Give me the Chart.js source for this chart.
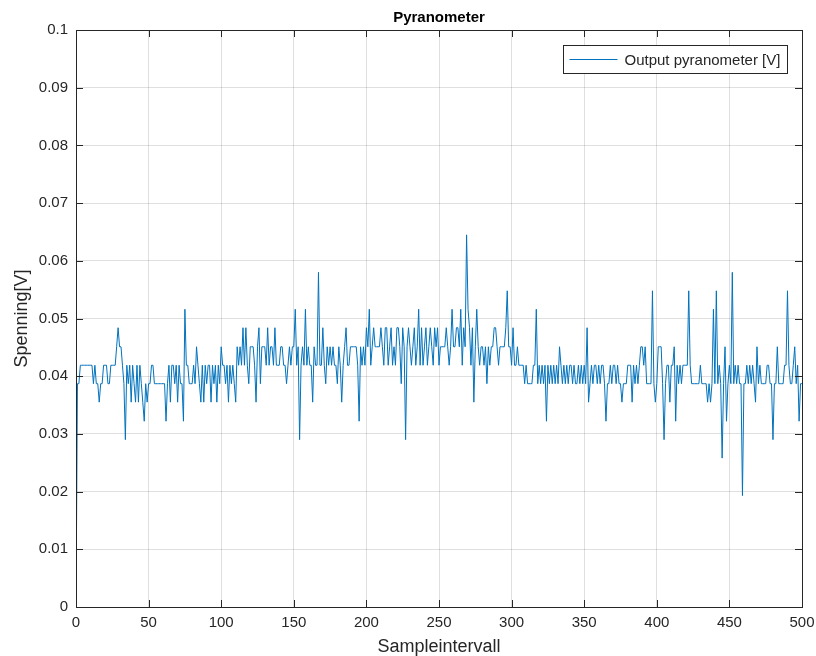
<!DOCTYPE html>
<html>
<head>
<meta charset="utf-8">
<script src="https://cdn.jsdelivr.net/npm/chart.js@4/dist/chart.umd.min.js"></script>
<style>
  body { margin: 0; background: #fff; }
  #wrap { width: 816px; height: 656px; }
</style>
</head>
<body>
<div id="wrap"><canvas id="myChart" width="816" height="656"></canvas></div>
<script>
// sample index on the x axis
const sampleIdx = Array.from({ length: 501 }, (_, i) => i);

// output voltage, one value per sample
const outputV = [
  0, 0.0387, 0.0387, 0.0419, 0.0419, 0.0419, 0.0419, 0.0419, 0.0419, 0.0419, // 0
  0.0419, 0.0419, 0.0387, 0.0419, 0.0387, 0.0387, 0.0355, 0.0387, 0.0387, 0.0419,
  0.0419, 0.0419, 0.0387, 0.0387, 0.0419, 0.0419, 0.0419, 0.0419, 0.0451, 0.0484,
  0.0451, 0.0451, 0.0419, 0.0387, 0.0290, 0.0419, 0.0387, 0.0419, 0.0355, 0.0419,
  0.0387, 0.0355, 0.0419, 0.0355, 0.0419, 0.0387, 0.0355, 0.0322, 0.0387, 0.0355,
  0.0387, 0.0387, 0.0419, 0.0419, 0.0387, 0.0387, 0.0387, 0.0387, 0.0387, 0.0387, // 50
  0.0387, 0.0387, 0.0322, 0.0387, 0.0419, 0.0355, 0.0419, 0.0419, 0.0387, 0.0419,
  0.0355, 0.0419, 0.0387, 0.0387, 0.0322, 0.0516, 0.0419, 0.0419, 0.0387, 0.0387,
  0.0387, 0.0419, 0.0387, 0.0451, 0.0419, 0.0387, 0.0355, 0.0419, 0.0355, 0.0419,
  0.0387, 0.0419, 0.0419, 0.0355, 0.0419, 0.0387, 0.0419, 0.0355, 0.0419, 0.0387,
  0.0451, 0.0419, 0.0419, 0.0387, 0.0419, 0.0355, 0.0419, 0.0387, 0.0419, 0.0387, // 100
  0.0355, 0.0451, 0.0419, 0.0451, 0.0419, 0.0484, 0.0419, 0.0484, 0.0419, 0.0387,
  0.0451, 0.0451, 0.0451, 0.0419, 0.0355, 0.0451, 0.0484, 0.0387, 0.0451, 0.0451,
  0.0451, 0.0419, 0.0484, 0.0419, 0.0451, 0.0451, 0.0419, 0.0484, 0.0419, 0.0419,
  0.0419, 0.0451, 0.0451, 0.0419, 0.0419, 0.0387, 0.0419, 0.0451, 0.0419, 0.0451,
  0.0451, 0.0516, 0.0419, 0.0451, 0.0290, 0.0419, 0.0451, 0.0419, 0.0516, 0.0419, // 150
  0.0451, 0.0419, 0.0419, 0.0355, 0.0451, 0.0419, 0.0419, 0.0580, 0.0419, 0.0419,
  0.0484, 0.0419, 0.0387, 0.0451, 0.0419, 0.0451, 0.0419, 0.0451, 0.0419, 0.0419,
  0.0387, 0.0451, 0.0419, 0.0355, 0.0419, 0.0451, 0.0484, 0.0419, 0.0419, 0.0451,
  0.0451, 0.0451, 0.0451, 0.0451, 0.0419, 0.0322, 0.0451, 0.0419, 0.0451, 0.0419,
  0.0484, 0.0451, 0.0516, 0.0419, 0.0451, 0.0484, 0.0451, 0.0451, 0.0451, 0.0451, // 200
  0.0484, 0.0451, 0.0419, 0.0484, 0.0484, 0.0419, 0.0451, 0.0484, 0.0419, 0.0451,
  0.0419, 0.0484, 0.0484, 0.0451, 0.0387, 0.0484, 0.0451, 0.0290, 0.0451, 0.0484,
  0.0451, 0.0419, 0.0451, 0.0484, 0.0419, 0.0451, 0.0516, 0.0419, 0.0484, 0.0419,
  0.0451, 0.0484, 0.0419, 0.0451, 0.0484, 0.0451, 0.0419, 0.0484, 0.0451, 0.0484,
  0.0419, 0.0451, 0.0451, 0.0451, 0.0451, 0.0484, 0.0451, 0.0419, 0.0451, 0.0516, // 250
  0.0451, 0.0451, 0.0484, 0.0484, 0.0451, 0.0516, 0.0419, 0.0484, 0.0451, 0.0645,
  0.0516, 0.0484, 0.0419, 0.0484, 0.0355, 0.0451, 0.0516, 0.0451, 0.0419, 0.0451,
  0.0451, 0.0419, 0.0451, 0.0387, 0.0451, 0.0419, 0.0451, 0.0451, 0.0484, 0.0484,
  0.0451, 0.0419, 0.0451, 0.0451, 0.0451, 0.0451, 0.0484, 0.0548, 0.0451, 0.0451,
  0.0419, 0.0484, 0.0419, 0.0419, 0.0451, 0.0419, 0.0419, 0.0419, 0.0419, 0.0387, // 300
  0.0419, 0.0387, 0.0387, 0.0387, 0.0387, 0.0419, 0.0419, 0.0516, 0.0387, 0.0419,
  0.0387, 0.0419, 0.0387, 0.0419, 0.0322, 0.0419, 0.0387, 0.0419, 0.0387, 0.0419,
  0.0387, 0.0419, 0.0387, 0.0451, 0.0419, 0.0387, 0.0419, 0.0387, 0.0419, 0.0387,
  0.0419, 0.0419, 0.0387, 0.0419, 0.0387, 0.0387, 0.0419, 0.0387, 0.0419, 0.0387,
  0.0419, 0.0387, 0.0484, 0.0355, 0.0387, 0.0419, 0.0387, 0.0419, 0.0419, 0.0387, // 350
  0.0419, 0.0387, 0.0419, 0.0419, 0.0387, 0.0322, 0.0387, 0.0387, 0.0419, 0.0387,
  0.0419, 0.0419, 0.0387, 0.0419, 0.0387, 0.0387, 0.0355, 0.0387, 0.0387, 0.0387,
  0.0419, 0.0419, 0.0419, 0.0355, 0.0419, 0.0387, 0.0419, 0.0387, 0.0419, 0.0451,
  0.0451, 0.0419, 0.0451, 0.0387, 0.0387, 0.0387, 0.0387, 0.0548, 0.0387, 0.0355,
  0.0387, 0.0451, 0.0451, 0.0451, 0.0387, 0.0290, 0.0387, 0.0419, 0.0419, 0.0355, // 400
  0.0419, 0.0419, 0.0451, 0.0322, 0.0419, 0.0387, 0.0419, 0.0387, 0.0419, 0.0419,
  0.0419, 0.0419, 0.0548, 0.0419, 0.0387, 0.0387, 0.0387, 0.0387, 0.0387, 0.0387,
  0.0419, 0.0387, 0.0387, 0.0387, 0.0387, 0.0355, 0.0387, 0.0355, 0.0387, 0.0516,
  0.0387, 0.0548, 0.0387, 0.0419, 0.0387, 0.0258, 0.0387, 0.0451, 0.0322, 0.0387,
  0.0419, 0.0387, 0.0580, 0.0387, 0.0419, 0.0387, 0.0419, 0.0387, 0.0387, 0.0193, // 450
  0.0387, 0.0387, 0.0419, 0.0387, 0.0419, 0.0387, 0.0419, 0.0387, 0.0355, 0.0451,
  0.0387, 0.0419, 0.0387, 0.0387, 0.0387, 0.0387, 0.0419, 0.0419, 0.0387, 0.0387,
  0.0290, 0.0387, 0.0387, 0.0451, 0.0387, 0.0387, 0.0387, 0.0387, 0.0419, 0.0419,
  0.0548, 0.0419, 0.0387, 0.0387, 0.0419, 0.0451, 0.0387, 0.0419, 0.0322, 0.0387,
  0.0387 // 500
];

const axisColor = "#262626";
const gridColor = "rgba(38,38,38,0.15)";
const lineColor = "rgb(0,114,189)";
const fontFamily = "'Liberation Sans', Arial, Helvetica, sans-serif";

// matlab style: box around the axes, ticks pointing inward, legend inside
const boxTicks = {
  id: "boxTicks",
  afterDraw(chart) {
    const { ctx, chartArea: a, scales } = chart;
    const len = 7;
    ctx.save();
    ctx.strokeStyle = axisColor;
    ctx.lineWidth = 1;
    ctx.beginPath();
    scales.x.ticks.forEach((t) => {
      const px = Math.round(scales.x.getPixelForValue(t.value)) + 0.5;
      ctx.moveTo(px, a.bottom); ctx.lineTo(px, a.bottom - len);
      ctx.moveTo(px, a.top); ctx.lineTo(px, a.top + len);
    });
    scales.y.ticks.forEach((t) => {
      const py = Math.round(scales.y.getPixelForValue(t.value)) + 0.5;
      ctx.moveTo(a.left, py); ctx.lineTo(a.left + len, py);
      ctx.moveTo(a.right, py); ctx.lineTo(a.right - len, py);
    });
    ctx.stroke();
    ctx.strokeRect(Math.round(a.left) + 0.5, Math.round(a.top) + 0.5,
      Math.round(a.right - a.left), Math.round(a.bottom - a.top));

    const ds = chart.data.datasets[0];
    ctx.font = "15px " + fontFamily;
    const tw = ctx.measureText(ds.label).width;
    const lineLen = 48;
    const w = Math.round(6 + lineLen + 7 + tw + 7);
    const h = 28;
    const bx = Math.round(a.right - 15 - w) + 0.5;
    const by = Math.round(a.top + 15) + 0.5;
    ctx.fillStyle = "#fff";
    ctx.fillRect(bx, by, w, h);
    ctx.strokeRect(bx, by, w, h);
    ctx.beginPath();
    ctx.strokeStyle = lineColor;
    ctx.moveTo(bx + 6, by + 14);
    ctx.lineTo(bx + 6 + lineLen, by + 14);
    ctx.stroke();
    ctx.fillStyle = axisColor;
    ctx.textBaseline = "middle";
    ctx.fillText(ds.label, bx + 6 + lineLen + 7, by + h / 2 + 1);
    ctx.restore();
  },
};

new Chart(document.getElementById("myChart"), {
  type: "line",
  data: {
    labels: sampleIdx,
    datasets: [
      {
        label: "Output pyranometer [V]",
        data: outputV,
        borderColor: lineColor,
        borderWidth: 1,
        pointRadius: 0,
        tension: 0,
        fill: false,
      },
    ],
  },
  options: {
    responsive: false,
    animation: false,
    layout: { padding: { left: 0, right: 14, top: 0, bottom: 0 } },
    plugins: {
      legend: { display: false },
      tooltip: { enabled: false },
      title: {
        display: true,
        text: "Pyranometer",
        fullSize: false,
        color: "#000",
        font: { family: fontFamily, size: 15, weight: "bold", lineHeight: 1.2 },
        padding: { top: 9, bottom: 3 },
      },
    },
    scales: {
      x: {
        type: "linear",
        min: 0,
        max: 500,
        ticks: {
          stepSize: 50,
          color: axisColor,
          padding: 7,
          maxRotation: 0,
          font: { family: fontFamily, size: 15 },
        },
        grid: { color: gridColor, drawTicks: false },
        border: { display: false },
        title: {
          display: true,
          text: "Sampleintervall",
          color: axisColor,
          font: { family: fontFamily, size: 18, lineHeight: 1 },
          padding: { top: 0, bottom: 0 },
        },
        afterFit(scale) {
          scale.height = 49;
          scale.paddingLeft = 0;
          scale.paddingRight = 0;
        },
      },
      y: {
        min: 0,
        max: 0.1,
        ticks: {
          stepSize: 0.01,
          color: axisColor,
          padding: 8,
          font: { family: fontFamily, size: 15 },
          callback: (v) => String(+v.toFixed(2)),
        },
        grid: { color: gridColor, drawTicks: false },
        border: { display: false },
        title: {
          display: true,
          text: "Spenning[V]",
          color: axisColor,
          font: { family: fontFamily, size: 18, lineHeight: 1.2 },
          padding: { top: 11, bottom: 0 },
        },
        afterFit(scale) { scale.width = 76; },
      },
    },
  },
  plugins: [boxTicks],
});
</script>
</body>
</html>
